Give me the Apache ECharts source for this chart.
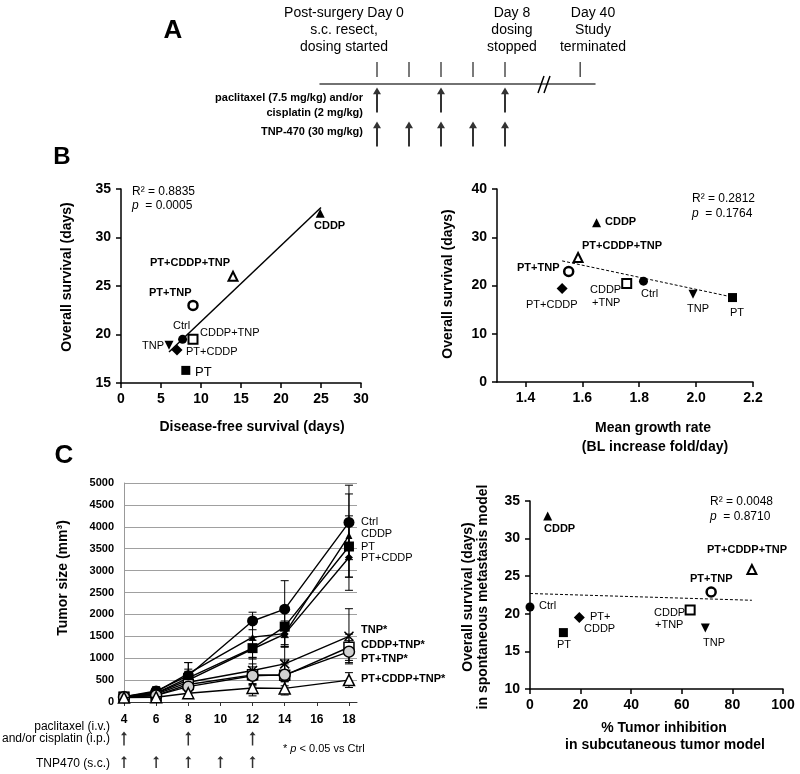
<!DOCTYPE html>
<html><head><meta charset="utf-8">
<script src="https://cdn.jsdelivr.net/npm/echarts@6/dist/echarts.min.js"></script>
<style>html,body{margin:0;padding:0;background:#fff}#c{width:800px;height:774px}</style>
</head><body><div id="c"></div><script>
const FONT = '"Liberation Sans", Arial, Helvetica, sans-serif';
const groups = ['Ctrl','CDDP','PT','PT+CDDP','TNP','CDDP+TNP','PT+TNP','PT+CDDP+TNP'];

// ---- Panel A: timeline ----
const timelineTickDays = [0,2,4,6,8,40];
const chemoDoseDays = [0,4,8];
const tnpDoseDays = [0,2,4,6,8];

// ---- Panel B left: disease-free vs overall survival ----
const dfsDays = [7.7,24.9,8.1,7.0,6.0,9.0,9.0,14.0];
const osB1 = [19.5,32.5,16.3,18.4,18.9,19.5,23.0,26.0];
const fitB1X = [6.0,25.0];
const fitB1Y = [18.2,33.1];

// ---- Panel B right: growth rate vs overall survival ----
const growthRate = [1.815,1.65,2.128,1.529,1.989,1.756,1.552,1.585];
const osB2 = [20.9,33.0,17.5,19.4,18.2,20.4,22.9,25.8];
const fitB2X = [1.529,2.128];
const fitB2Y = [25.1,17.6];

// ---- Panel C left: tumor size ----
const days = [4,6,8,12,14,18];
const tumorCtrl      = [120,250,600,1850,2120,4100];
const tumorCDDP      = [120,230,650,1480,1560,3800];
const tumorPT        = [120,200,550,1230,1720,3550];
const tumorPTCDDP    = [115,200,500,1210,1550,3300];
const tumorTNP       = [110,180,450,720,870,1500];
const tumorCDDPTNP   = [110,150,400,620,610,1250];
const tumorPTTNP     = [110,150,350,600,620,1150];
const tumorPTCDDPTNP = [100,110,200,320,310,500];
const errCtrl      = [30,100,300,200,650,850];
const errCDDP      = [30,100,250,300,250,950];
const errPT        = [30,80,200,250,450,700];
const errPTCDDP    = [30,80,200,200,300,750];
const errTNP       = [30,60,200,300,400,630];
const errCDDPTNP   = [30,60,150,250,350,300];
const errPTTNP     = [30,60,150,200,250,250];
const errPTCDDPTNP = [20,40,80,180,150,170];
const cChemoDays = [4,8,12];
const cTnpDays = [4,6,8,10,12];
const cTicks = [4,6,8,10,12,14,16,18];

// ---- Panel C right: inhibition vs overall survival ----
const inhibition = [0,7.0,13.2,19.5,69.3,63.3,71.6,87.7];
const osC2 = [20.9,33.0,17.5,19.5,18.1,20.5,22.9,25.9];
const fitC2X = [0,87.7];
const fitC2Y = [22.7,21.8];
const b2Ticks = [1.4,1.6,1.8,2.0,2.2];

// ---------- styles ----------
const symB = {
  'Ctrl': {symbol:'circle', size:9, fill:'#000', bw:0},
  'CDDP': {symbol:'triangle', size:9, fill:'#000', bw:0},
  'PT': {symbol:'rect', size:9, fill:'#000', bw:0},
  'PT+CDDP': {symbol:'diamond', size:11, fill:'#000', bw:0},
  'TNP': {symbol:'triangle', size:9, fill:'#000', bw:0, rot:180},
  'CDDP+TNP': {symbol:'rect', size:9, fill:'#fff', bw:2},
  'PT+TNP': {symbol:'circle', size:9, fill:'#fff', bw:2.5},
  'PT+CDDP+TNP': {symbol:'triangle', size:9, fill:'#fff', bw:2}
};
const CROSS = 'path://M0,0 L10,10 M10,0 L0,10';
const symC = {
  'Ctrl': {symbol:'circle', size:11, fill:'#000', bw:0},
  'CDDP': {symbol:'triangle', size:7, fill:'#000', bw:0},
  'PT': {symbol:'rect', size:10, fill:'#000', bw:0},
  'PT+CDDP': {symbol:'diamond', size:8, fill:'#000', bw:0},
  'TNP': {symbol:CROSS, size:9, fill:'none', bw:1.5},
  'CDDP+TNP': {symbol:'rect', size:10, fill:'#fff', bw:1.5},
  'PT+TNP': {symbol:'circle', size:11, fill:'#d0d0d0', bw:1.5},
  'PT+CDDP+TNP': {symbol:'triangle', size:11, fill:'#fff', bw:1.5}
};
const ARROW = 'path://M4,0 L8,8 L5,8 L5,30 L3,30 L3,8 L0,8 Z';
const brk = d => d > 10 ? 10 + (d - 10) * 0.09 : d;

function T(text, x, y, o) {
  o = o || {};
  return {type:'text', x:x, y:y, rotation:o.rot||0, z:100, silent:true,
    style:{text:text, x:0, y:0, fill:'#000', fontFamily:FONT, fontSize:o.size||11,
      fontWeight:o.bold?'bold':'normal', align:o.align||'left', verticalAlign:'middle',
      rich:{i:{fontStyle:'italic', fontFamily:FONT, fontSize:o.size||11}}}};
}
function L(x1,y1,x2,y2,w){return {type:'line', z:100, silent:true, shape:{x1,y1,x2,y2}, style:{stroke:'#000', lineWidth:w||1.5}};}

const axLine = (w,c)=>({show:true, lineStyle:{color:c||'#000', width:w||1.5}});
const lbl = (s,extra)=>Object.assign({color:'#000', fontFamily:FONT, fontWeight:'bold', fontSize:s}, extra||{});

const grid = [
  {left:320, top:84, width:275, height:66},
  {left:121, top:189, width:240, height:194},
  {left:497, top:189, width:256, height:193},
  {left:124, top:483, width:233, height:219},
  {left:124, top:728, width:233, height:45},
  {left:530, top:501, width:253, height:188}
];
const xAxis = [
  {gridIndex:0, type:'value', min:-3.5625, max:13.625, position:'top', axisLine:axLine(1.5,'#444'), axisTick:{show:false}, axisLabel:{show:false}, splitLine:{show:false}},
  {gridIndex:1, type:'value', min:0, max:30, interval:5, axisLine:axLine(1.5), axisTick:{show:true, length:5, lineStyle:{color:'#000', width:1.5}}, axisLabel:lbl(14,{margin:9}), splitLine:{show:false}},
  {gridIndex:2, type:'value', min:1.3, max:2.2, axisLine:axLine(1.5), axisTick:{show:true, length:5, customValues:b2Ticks, lineStyle:{color:'#000', width:1.5}}, axisLabel:lbl(14,{margin:9, customValues:b2Ticks, formatter:v=>Number(v).toFixed(1)}), splitLine:{show:false}},
  {gridIndex:3, type:'value', min:4, max:18.5, axisLine:axLine(1,'#333'), axisTick:{show:true, length:4, customValues:cTicks, lineStyle:{color:'#333'}}, axisLabel:lbl(12,{margin:12, customValues:cTicks}), splitLine:{show:false}},
  {gridIndex:4, type:'value', min:4, max:18.5, show:false},
  {gridIndex:5, type:'value', min:0, max:100, interval:20, axisLine:axLine(1.5), axisTick:{show:true, length:5, lineStyle:{color:'#000', width:1.5}}, axisLabel:lbl(14,{margin:9}), splitLine:{show:false}}
];
const yAxis = [
  {gridIndex:0, type:'value', min:0, max:66, inverse:true, show:false},
  {gridIndex:1, type:'value', min:15, max:35, interval:5, axisLine:axLine(1.5), axisTick:{show:true, length:5, lineStyle:{color:'#000', width:1.5}}, axisLabel:lbl(14,{margin:10}), splitLine:{show:false}},
  {gridIndex:2, type:'value', min:0, max:40, interval:10, axisLine:axLine(1.5), axisTick:{show:true, length:5, lineStyle:{color:'#000', width:1.5}}, axisLabel:lbl(14,{margin:10}), splitLine:{show:false}},
  {gridIndex:3, type:'value', min:0, max:5000, interval:500, axisLine:axLine(1,'#999'), axisTick:{show:false}, axisLabel:lbl(11,{margin:10, formatter:v=>String(v)}), splitLine:{show:true, lineStyle:{color:'#a0a0a0', width:1}}},
  {gridIndex:4, type:'value', min:0, max:45, inverse:true, show:false},
  {gridIndex:5, type:'value', min:10, max:35, interval:5, axisLine:axLine(1.5), axisTick:{show:true, length:5, lineStyle:{color:'#000', width:1.5}}, axisLabel:lbl(14,{margin:10}), splitLine:{show:false}}
];

const series = [];
// Panel A
series.push({type:'scatter', xAxisIndex:0, yAxisIndex:0, clip:false, symbol:'rect', symbolSize:[1.5,15], itemStyle:{color:'#222'}, data:timelineTickDays.map(d=>[brk(d), -14.5])});
series.push({type:'scatter', xAxisIndex:0, yAxisIndex:0, clip:false, symbol:ARROW, symbolSize:[8,25], itemStyle:{color:'#000'}, data:chemoDoseDays.map(d=>[d,16])});
series.push({type:'scatter', xAxisIndex:0, yAxisIndex:0, clip:false, symbol:ARROW, symbolSize:[8,25], itemStyle:{color:'#000'}, data:tnpDoseDays.map(d=>[d,50])});

function scatterSet(xi, xs, ys) {
  groups.forEach((g,i)=>{
    const s = symB[g];
    series.push({type:'scatter', name:g, xAxisIndex:xi, yAxisIndex:xi, clip:false, symbol:s.symbol, symbolSize:s.size, symbolRotate:s.rot||0,
      itemStyle:{color:s.fill, borderColor:'#000', borderWidth:s.bw, opacity:1}, z:5, data:[[xs[i], ys[i]]]});
  });
}
scatterSet(1, dfsDays, osB1);
series.push({type:'line', xAxisIndex:1, yAxisIndex:1, symbol:'none', lineStyle:{color:'#000', width:1.5}, data:fitB1X.map((x,i)=>[x,fitB1Y[i]]), z:3});
scatterSet(2, growthRate, osB2);
series.push({type:'line', xAxisIndex:2, yAxisIndex:2, symbol:'none', lineStyle:{color:'#000', width:1, type:[3,2]}, data:fitB2X.map((x,i)=>[x,fitB2Y[i]]), z:3});
scatterSet(5, inhibition, osC2);
series.push({type:'line', xAxisIndex:5, yAxisIndex:5, symbol:'none', lineStyle:{color:'#000', width:1, type:[3,2]}, data:fitC2X.map((x,i)=>[x,fitC2Y[i]]), z:3});

// Panel C left
const tumor = [tumorCtrl,tumorCDDP,tumorPT,tumorPTCDDP,tumorTNP,tumorCDDPTNP,tumorPTTNP,tumorPTCDDPTNP];
const errs = [errCtrl,errCDDP,errPT,errPTCDDP,errTNP,errCDDPTNP,errPTTNP,errPTCDDPTNP];
const errData = [];
tumor.forEach((arr,gi)=>arr.forEach((v,j)=>errData.push([days[j], v, errs[gi][j]])));
series.push({type:'custom', xAxisIndex:3, yAxisIndex:3, z:2, clip:false, data:errData,
  renderItem:(p,api)=>{
    const x=api.value(0), y=api.value(1), e=api.value(2);
    const t=api.coord([x,y+e]), b=api.coord([x,y-e]); const w=4;
    const st={stroke:'#000', lineWidth:1};
    return {type:'group', children:[
      {type:'line', shape:{x1:t[0],y1:t[1],x2:b[0],y2:b[1]}, style:st},
      {type:'line', shape:{x1:t[0]-w,y1:t[1],x2:t[0]+w,y2:t[1]}, style:st},
      {type:'line', shape:{x1:b[0]-w,y1:b[1],x2:b[0]+w,y2:b[1]}, style:st}]};
  }});
groups.forEach((g,gi)=>{
  const s = symC[g];
  series.push({type:'line', name:'C-'+g, xAxisIndex:3, yAxisIndex:3, symbol:s.symbol, symbolSize:s.size, showAllSymbol:true,
    lineStyle:{color:'#000', width:1.4}, itemStyle:{color:s.fill, borderColor:'#000', borderWidth:s.bw}, z:4+gi*0.01,
    data:days.map((d,j)=>[d, tumor[gi][j]])});
});
series.push({type:'scatter', xAxisIndex:4, yAxisIndex:4, clip:false, symbol:ARROW, symbolSize:[6,14], itemStyle:{color:'#000'}, data:cChemoDays.map(d=>[d,10.5])});
series.push({type:'scatter', xAxisIndex:4, yAxisIndex:4, clip:false, symbol:ARROW, symbolSize:[6,12], itemStyle:{color:'#000'}, data:cTnpDays.map(d=>[d,34])});

const graphic = [
  // Panel A
  T('A',173,31,{size:26,bold:true,align:'center'}),
  T('Post-surgery Day 0',344,13,{size:14,align:'center'}),
  T('s.c. resect,',344,30,{size:14,align:'center'}),
  T('dosing started',344,47,{size:14,align:'center'}),
  T('Day 8',512,13,{size:14,align:'center'}),
  T('dosing',512,30,{size:14,align:'center'}),
  T('stopped',512,47,{size:14,align:'center'}),
  T('Day 40',593,13,{size:14,align:'center'}),
  T('Study',593,30,{size:14,align:'center'}),
  T('terminated',593,47,{size:14,align:'center'}),
  T('paclitaxel (7.5 mg/kg) and/or',363,98,{size:11,bold:true,align:'right'}),
  T('cisplatin (2 mg/kg)',363,113,{size:11,bold:true,align:'right'}),
  T('TNP-470 (30 mg/kg)',363,132,{size:11,bold:true,align:'right'}),
  L(538,93,544,76), L(544,93,550,76),
  // Panel B
  T('B',62,157,{size:24,bold:true,align:'center'}),
  T('R² = 0.8835',132,192,{size:12}),
  T('{i|p}  = 0.0005',132,206,{size:12}),
  T('CDDP',314,226,{bold:true}),
  T('PT+CDDP+TNP',150,263,{bold:true}),
  T('PT+TNP',149,293,{bold:true}),
  T('Ctrl',173,326,{size:11}),
  T('CDDP+TNP',200,333,{size:11}),
  T('TNP',142,346,{size:11}),
  T('PT+CDDP',186,352,{size:11}),
  T('PT',195,372,{size:13}),
  T('Disease-free survival (days)',252,427,{size:14,bold:true,align:'center'}),
  T('Overall survival (days)',67,277,{size:14,bold:true,align:'center',rot:Math.PI/2}),
  T('R² = 0.2812',692,199,{size:12}),
  T('{i|p}  = 0.1764',692,214,{size:12}),
  T('CDDP',605,222,{bold:true}),
  T('PT+CDDP+TNP',582,246,{bold:true}),
  T('PT+TNP',517,268,{bold:true}),
  T('PT+CDDP',526,305,{size:11}),
  T('CDDP',590,290,{size:11}),
  T('+TNP',592,303,{size:11}),
  T('Ctrl',641,294,{size:11}),
  T('TNP',687,309,{size:11}),
  T('PT',730,313,{size:11}),
  T('Mean growth rate',653,428,{size:14,bold:true,align:'center'}),
  T('(BL increase fold/day)',655,447,{size:14,bold:true,align:'center'}),
  T('Overall survival (days)',448,284,{size:14,bold:true,align:'center',rot:Math.PI/2}),
  // Panel C
  T('C',64,456,{size:26,bold:true,align:'center'}),
  T('Tumor size (mm³)',63,578,{size:14,bold:true,align:'center',rot:Math.PI/2}),
  T('Ctrl',361,522,{size:11}),
  T('CDDP',361,534,{size:11}),
  T('PT',361,547,{size:11}),
  T('PT+CDDP',361,558,{size:11}),
  T('TNP*',361,630,{size:11,bold:true}),
  T('CDDP+TNP*',361,645,{size:11,bold:true}),
  T('PT+TNP*',361,659,{size:11,bold:true}),
  T('PT+CDDP+TNP*',361,679,{size:11,bold:true}),
  T('paclitaxel (i.v.)',110,727,{size:12,align:'right'}),
  T('and/or cisplatin (i.p.)',110,739,{size:12,align:'right'}),
  T('TNP470 (s.c.)',110,764,{size:12,align:'right'}),
  T('* {i|p} < 0.05 vs Ctrl',283,749,{size:11}),
  T('R² = 0.0048',710,502,{size:12}),
  T('{i|p}  = 0.8710',710,517,{size:12}),
  T('CDDP',544,529,{bold:true}),
  T('PT+CDDP+TNP',707,550,{bold:true}),
  T('PT+TNP',690,579,{bold:true}),
  T('Ctrl',539,606,{size:11}),
  T('PT+',590,617,{size:11}),
  T('CDDP',584,629,{size:11}),
  T('PT',557,645,{size:11}),
  T('CDDP',654,613,{size:11}),
  T('+TNP',655,625,{size:11}),
  T('TNP',703,643,{size:11}),
  T('% Tumor inhibition',664,728,{size:14,bold:true,align:'center'}),
  T('in subcutaneous tumor model',665,745,{size:14,bold:true,align:'center'}),
  T('Overall survival (days)',468,597,{size:14,bold:true,align:'center',rot:Math.PI/2}),
  T('in spontaneous metastasis model',483,597,{size:14,bold:true,align:'center',rot:Math.PI/2})
];

const chart = echarts.init(document.getElementById('c'), null, {renderer:'canvas'});
chart.setOption({backgroundColor:'#fff', animation:false, grid, xAxis, yAxis, series, graphic});
</script></body></html>
